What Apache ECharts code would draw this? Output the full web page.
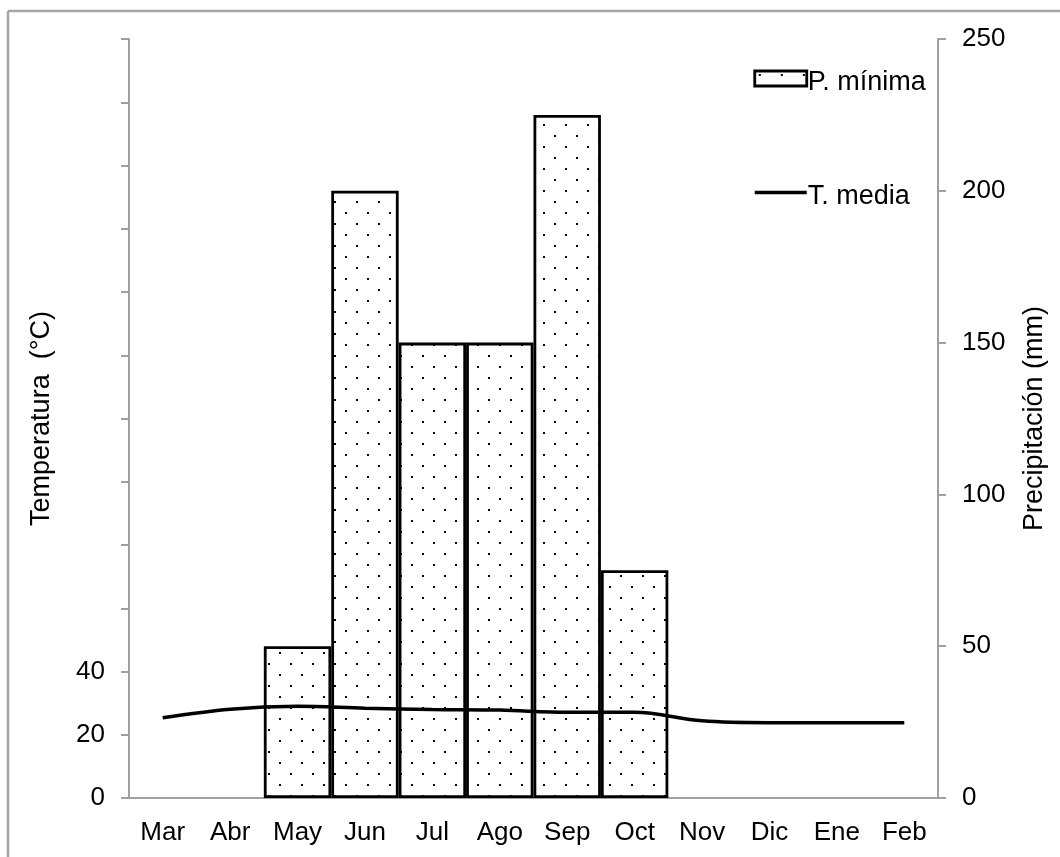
<!DOCTYPE html>
<html>
<head>
<meta charset="utf-8">
<script src="https://cdn.jsdelivr.net/npm/echarts@6/dist/echarts.min.js"></script>
<style>
html,body{margin:0;padding:0;background:#fff;}
#c{width:1060px;height:857px;}
</style>
</head>
<body>
<div id="c"></div>
<script>
var months = ['Mar','Abr','May','Jun','Jul','Ago','Sep','Oct','Nov','Dic','Ene','Feb'];
var precipMin = [null, null, 50, 200, 150, 150, 225, 75, null, null, null, null];
var tempMedia = [25.4, 28.1, 29.0, 28.4, 28.0, 27.8, 27.1, 27.1, 24.4, 23.8, 23.8, 23.8];
var tempLabels = [0, 20, 40];
var FONT = 'Liberation Sans, Arial, sans-serif';

var cv = document.createElement('canvas');
cv.width = 22; cv.height = 22;
var cx = cv.getContext('2d');
cx.fillStyle = '#fff'; cx.fillRect(0,0,22,22);
cx.fillStyle = '#000';
cx.fillRect(4,3,2,2);
cx.fillRect(15,14,2,2);
var dots = {image: cv, repeat: 'repeat'};

var chart = echarts.init(document.getElementById('c'));
chart.setOption({
  animation: false,
  backgroundColor: '#fff',
  grid: {left: 129, right: 122, top: 39, bottom: 59, containLabel: false},
  graphic: [
    {type:'line', shape:{x1:8,y1:11,x2:1060,y2:11}, style:{stroke:'#a6a6a6', lineWidth:2.5}},
    {type:'line', shape:{x1:8,y1:11,x2:8,y2:857}, style:{stroke:'#a6a6a6', lineWidth:2.5}}
  ],
  legend: {
    orient: 'vertical',
    left: 753, top: 69, padding: 0,
    itemWidth: 52, itemHeight: 15, itemGap: 87,
    formatter: function(name){ return '{t|' + name + '}'; },
    textStyle: {fontFamily: FONT, fontSize: 27, color: '#000', padding: [0,0,0,-4],
      rich: {t: {fontFamily: FONT, fontSize: 27, color: '#000', padding: [8,0,0,0]}}},
    data: [
      {name: 'P. mínima', icon: 'rect', itemStyle: {color: dots, borderColor: '#000', borderWidth: 2.8}},
      {name: 'T. media', itemStyle: {opacity: 0}, lineStyle: {color: '#000', width: 3.5}}
    ]
  },
  xAxis: {
    type: 'category',
    data: months,
    boundaryGap: true,
    axisLine: {lineStyle: {color: '#a0a0a0', width: 2}},
    axisTick: {length: 6, lineStyle: {color: '#a0a0a0', width: 2}},
    axisLabel: {fontFamily: FONT, fontSize: 26, color: '#000', margin: 22, interval: 0}
  },
  yAxis: [
    {
      type: 'value', min: 0, max: 240, interval: 20, position: 'left',
      name: 'Temperatura  (°C)', nameLocation: 'middle', nameGap: 74, nameRotate: 90,
      nameTextStyle: {fontFamily: FONT, fontSize: 27, color: '#000'},
      axisLine: {show: true, lineStyle: {color: '#a0a0a0', width: 2}},
      axisTick: {show: true, length: 8, lineStyle: {color: '#a0a0a0', width: 2}},
      splitLine: {show: false},
      axisLabel: {fontFamily: FONT, fontSize: 26, color: '#000', margin: 24,
        formatter: function(v){ return tempLabels.indexOf(v) >= 0 ? String(v) : ''; }}
    },
    {
      type: 'value', min: 0, max: 250, interval: 50, position: 'right',
      name: 'Precipitación (mm)', nameLocation: 'middle', nameGap: 83, nameRotate: 90,
      nameTextStyle: {fontFamily: FONT, fontSize: 27, color: '#000'},
      axisLine: {show: true, lineStyle: {color: '#a0a0a0', width: 2}},
      axisTick: {show: true, length: 8, lineStyle: {color: '#a0a0a0', width: 2}},
      splitLine: {show: false},
      axisLabel: {fontFamily: FONT, fontSize: 26, color: '#000', margin: 24}
    }
  ],
  series: [
    {
      name: 'P. mínima', type: 'bar', yAxisIndex: 1,
      data: precipMin,
      barCategoryGap: '0%',
      itemStyle: {color: dots, borderColor: '#000', borderWidth: 2.8}
    },
    {
      name: 'T. media', type: 'line', yAxisIndex: 0,
      data: tempMedia,
      smooth: 0.35, symbol: 'none',
      lineStyle: {color: '#000', width: 3.5},
      itemStyle: {color: '#000'}
    }
  ]
});
</script>
</body>
</html>
